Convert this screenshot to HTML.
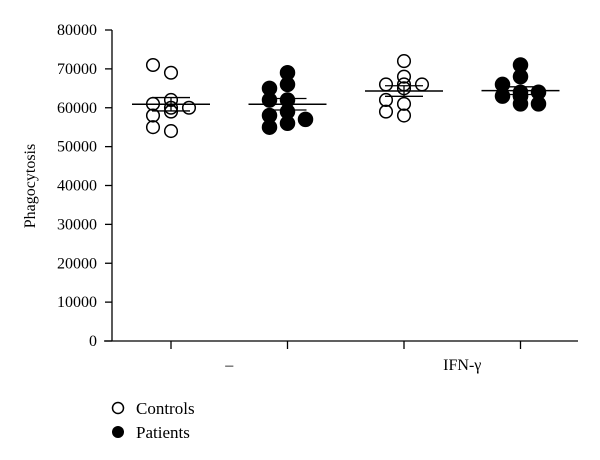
<!DOCTYPE html>
<html><head><meta charset="utf-8"><style>
body{margin:0;background:#fff}
svg{display:block;font-family:"Liberation Serif",serif}
</style></head><body>
<svg id="chart" width="600" height="460" viewBox="0 0 600 460" xmlns="http://www.w3.org/2000/svg">
<text transform="translate(35,186) rotate(-90)" text-anchor="middle" font-size="16">Phagocytosis</text>
<g id="axes"></g>
<g id="marks"></g>
<g>
<circle cx="118" cy="408" r="5.5" fill="#fff" stroke="#000" stroke-width="1.5"/>
<text x="136" y="414" font-size="17">Controls</text>
<circle cx="118" cy="432" r="6" fill="#000"/>
<text x="136" y="438" font-size="17">Patients</text>
</g>
</svg>
<script>
const yTicks=[0,10000,20000,30000,40000,50000,60000,70000,80000];
const categories=["–","IFN-γ"];
const groupNames=["controls-none","patients-none","controls-ifn","patients-ifn"];
const controlsNone=[69000,71000,62000,61000,60000,59000,60000,58000,54000,55000];
const patientsNone=[69000,66000,65000,62000,62000,59000,58000,57000,56000,55000];
const controlsIfn=[72000,68000,66000,66000,65000,66000,61000,62000,58000,59000];
const patientsIfn=[71000,68000,66000,64000,64000,63000,63000,61000,61000,63000];
const xJitter=[0,1,1,-1,0,-1,1,-1,1,0];
const NS="http://www.w3.org/2000/svg";
const Y=v=>341-v/80000*311;
const groupX=i=>171+i*116.5;
function mk(tag,attrs,parent){const e=document.createElementNS(NS,tag);for(const k in attrs)e.setAttribute(k,attrs[k]);parent.appendChild(e);return e;}
const axes=document.getElementById('axes'),marks=document.getElementById('marks');
let e=mk('line',{x1:112,y1:30,x2:112,y2:341,stroke:'#000','stroke-width':1.3},axes);


e=mk('line',{x1:104,y1:341,x2:578,y2:341,stroke:'#000','stroke-width':1.3},axes);


yTicks.forEach(t=>{
 let l=mk('line',{x1:105,y1:Y(t),x2:112,y2:Y(t),stroke:'#000','stroke-width':1.3},axes);
 
 
 let tx=mk('text',{x:97,y:Y(t)+5,'text-anchor':'end','font-size':16},axes);
 
 
 tx.textContent=t;
});
for(let i=0;i<4;i++){
 let l=mk('line',{x1:groupX(i),y1:341,x2:groupX(i),y2:349,stroke:'#000','stroke-width':1.3},axes);
 
 
}
categories.forEach((c,i)=>{
 let tx=mk('text',{x:(groupX(2*i)+groupX(2*i+1))/2,y:370,'text-anchor':'middle','font-size':16},axes);
 
 
 tx.textContent=c;
});
const data=[controlsNone,patientsNone,controlsIfn,patientsIfn];
data.forEach((vals,gi)=>{
 const cx=groupX(gi),filled=gi%2===1;
 // place points with simple collision-avoidance by value bins
 const used=[];
 vals.forEach((v,k)=>{
  const y=Y(v);let off=0;const cand=[0,-18,18,-9,9,-27,27];
  for(const o of cand){if(!used.some(p=>Math.abs(p[0]-o)<13&&Math.abs(p[1]-y)<11)){off=o;break;}}
  used.push([off,y]);
  let c=mk('circle',{cx:cx+off,cy:y,r:filled?7:6.3,fill:filled?'#000':'#fff','fill-opacity':filled?1:0,stroke:'#000','stroke-width':1.5},marks);
  
  
 });
 const n=vals.length,m=vals.reduce((a,b)=>a+b,0)/n;
 const sd=Math.sqrt(vals.reduce((a,b)=>a+(b-m)*(b-m),0)/(n-1)),se=sd/Math.sqrt(n);
 let ml=mk('line',{x1:cx-39,y1:Y(m),x2:cx+39,y2:Y(m),stroke:'#000','stroke-width':1.5},marks);
 
 
 [m+se,m-se].forEach(v=>{
  let s=mk('line',{x1:cx-19,y1:Y(v),x2:cx+19,y2:Y(v),stroke:'#000','stroke-width':1.3},marks);
  
  
 });
 let vl=mk('line',{x1:cx,y1:Y(m+se),x2:cx,y2:Y(m-se),stroke:'#000','stroke-width':1.3},marks);
 
 
});
</script>
</body></html>
